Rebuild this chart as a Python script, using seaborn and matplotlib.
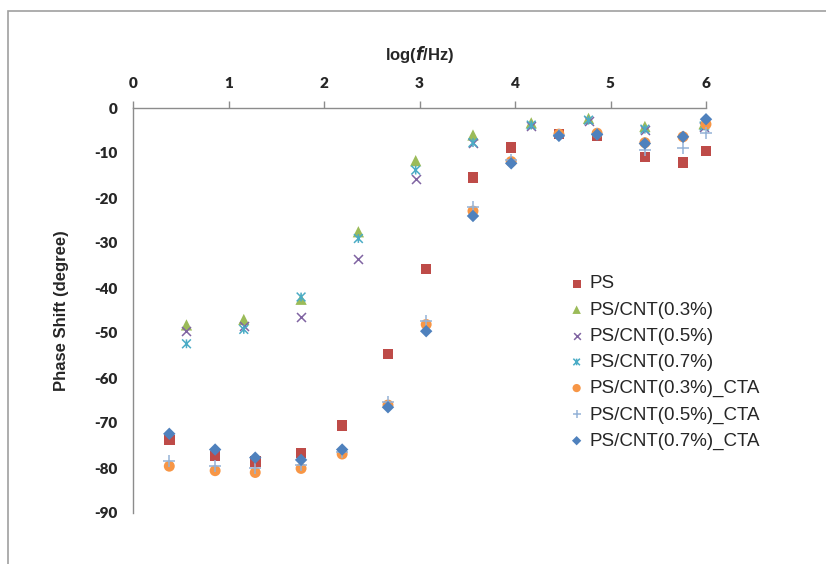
import numpy as np
import matplotlib
matplotlib.use("Agg")
import matplotlib.pyplot as plt
import seaborn as sns
from matplotlib.path import Path
from matplotlib.patches import Rectangle

# log(f/Hz) positions
x_cta = [0.38, 0.86, 1.28, 1.76, 2.19, 2.67, 3.07, 3.56, 3.96, 4.46, 4.86, 5.36, 5.76, 6.0]
x_cnt = [0.56, 1.16, 1.76, 2.36, 2.96, 3.56, 4.17, 4.77, 5.36, 5.98]

ps = [-73.8, -77.3, -78.6, -76.7, -70.5, -54.7, -35.8, -15.4, -8.8, -5.8, -6.2, -10.9, -12.1, -9.6]
cnt03 = [-48.2, -47.0, -42.5, -27.5, -11.7, -6.0, -3.3, -2.3, -4.1, -3.5]
cnt05 = [-49.6, -48.4, -46.4, -33.6, -15.7, -7.8, -3.9, -2.8, -4.8, -4.2]
cnt07 = [-52.4, -49.2, -42.0, -29.0, -13.8, -7.7, -3.8, -2.7, -4.7, -4.0]
cta03 = [-79.6, -80.6, -81.0, -80.1, -76.9, -66.0, -48.1, -22.9, -11.9, -5.8, -5.6, -7.7, -6.4, -3.6]
cta05 = [-78.5, -79.6, -80.1, -79.3, -76.5, -65.3, -47.3, -21.9, -11.6, -6.0, -5.8, -9.3, -8.8, -5.6]
cta07 = [-72.4, -75.9, -77.7, -78.2, -75.9, -66.5, -49.6, -24.0, -12.3, -6.2, -5.9, -7.9, -6.4, -2.5]

names = ["PS", "PS/CNT(0.3%)", "PS/CNT(0.5%)", "PS/CNT(0.7%)",
         "PS/CNT(0.3%)_CTA", "PS/CNT(0.5%)_CTA", "PS/CNT(0.7%)_CTA"]
colors = ["#BE4B48", "#9BBB59", "#8064A2", "#4BACC6", "#F79646", "#95B3D7", "#4F81BD"]

# excel style "star": an x with a vertical bar
star = Path([(-1, -1), (1, 1), (-1, 1), (1, -1), (0, -1), (0, 1)],
            [Path.MOVETO, Path.LINETO, Path.MOVETO, Path.LINETO, Path.MOVETO, Path.LINETO])

series = [
    (x_cta, ps, "s", 58, True),
    (x_cnt, cnt03, "^", 66, True),
    (x_cnt, cnt05, "x", 42, False),
    (x_cnt, cnt07, star, 40, False),
    (x_cta, cta03, "o", 62, True),
    (x_cta, cta05, "+", 70, False),
    (x_cta, cta07, "D", 40, True),
]

sns.set_style("white")
plt.rcParams["font.family"] = ["Liberation Sans", "DejaVu Sans"]
plt.rcParams["axes.unicode_minus"] = False

fig = plt.figure(figsize=(8.26, 5.64), dpi=100)
ax = fig.add_axes([133 / 826, 1 - 513 / 564, (706 - 133) / 826, (513 - 108) / 564])

for (xs, ys, m, s, filled), name, c in zip(series, names, colors):
    if filled:
        sns.scatterplot(x=xs, y=ys, ax=ax, marker=m, s=s, color=c, edgecolor="none",
                        linewidth=0, label=name, clip_on=False, zorder=3)
    elif isinstance(m, Path):
        sns.scatterplot(x=xs, y=ys, ax=ax, marker=m, s=s, edgecolor=c, facecolor="none",
                        linewidth=1.1, label=name, clip_on=False, zorder=3)
    else:
        sns.scatterplot(x=xs, y=ys, ax=ax, marker=m, s=s, color=c,
                        linewidth=1.1, label=name, clip_on=False, zorder=3)

ax.set_xlim(0, 6)
ax.set_ylim(-90, 0)
ax.xaxis.set_ticks_position("top")
ax.xaxis.set_label_position("top")
ax.set_xticks(range(0, 7))
ax.set_yticks(range(-90, 1, 10))
for side in ["right", "bottom"]:
    ax.spines[side].set_visible(False)
for side in ["left", "top"]:
    ax.spines[side].set_color("#8C8C8C")
    ax.spines[side].set_linewidth(1.0)
ax.tick_params(axis="both", direction="out", length=5, width=1.0, color="#8C8C8C",
               labelsize=11, pad=6)
ax.tick_params(axis="x", pad=8)
for lab in ax.get_xticklabels() + ax.get_yticklabels():
    lab.set_fontfamily(["Lato", "DejaVu Sans"])
    lab.set_fontweight("heavy")

ax.set_xlabel(r"log($\bfit{f}$/Hz)", fontsize=12, fontweight="bold", labelpad=12)
ax.set_ylabel("Phase Shift (degree)", fontsize=12, fontweight="bold", labelpad=18)

leg = ax.legend(loc="upper left", bbox_to_anchor=(556 / 826, 1 - 266 / 564),
                bbox_transform=fig.transFigure, frameon=False, fontsize=13.5,
                handletextpad=0.1, labelspacing=0.48, markerscale=0.75, borderpad=0,
                handlelength=1.2)

# outer chart frame (only top and left edges are inside the picture)
fig.patches.append(Rectangle((8 / 826, -0.1), 1.2, 1 - 11 / 564 + 0.1,
                             transform=fig.transFigure, fill=False,
                             edgecolor="#A0A0A0", linewidth=1.2))

fig.savefig("out.png", dpi=100)
